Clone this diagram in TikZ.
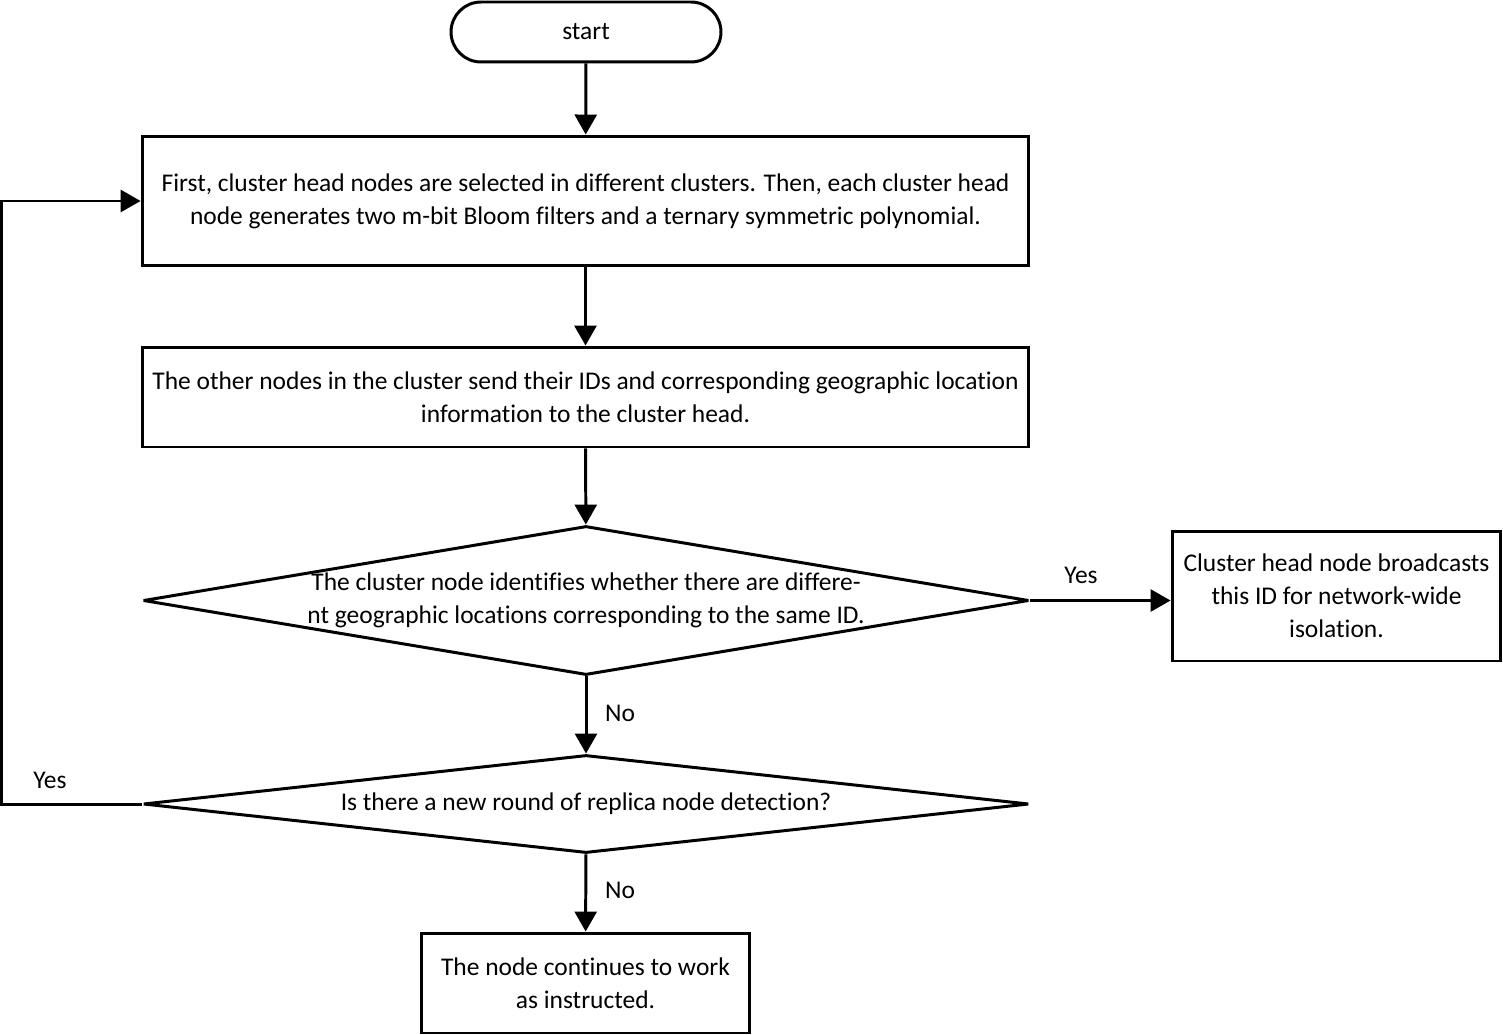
\documentclass[tikz,border=0pt]{standalone}
\usepackage{fontspec}
\setmainfont{Carlito}[Ligatures=NoCommon]
\usetikzlibrary{arrows.meta,shapes.geometric}
\begin{document}
\begin{tikzpicture}[x=0.02cm,y=-0.02cm,
  every node/.style={font=\fontsize{14.5}{18.8}\selectfont},
  box/.style={draw,line width=1.7pt,rectangle,inner sep=0pt,align=center},
  dia/.style={draw,line width=1.7pt,line join=bevel,diamond,inner sep=0pt},
  arr/.style={line width=1.7pt,-{Triangle[length=0.4cm,width=0.44cm]}},
  lbl/.style={inner sep=0pt}]
\useasboundingbox (0,0) rectangle (1503,1034);
\node[box,rounded corners=0.6cm,minimum width=5.4cm,minimum height=1.2cm] (start) at (586,32) {start};
\node[box,minimum width=17.74cm,minimum height=2.6cm] (b1) at (585.5,201) {First, cluster head nodes are selected in different clusters. Then, each cluster head\\node generates two m-bit Bloom filters and a ternary symmetric polynomial.};
\node[box,minimum width=17.74cm,minimum height=2.0cm] (b2) at (585.5,397) {The other nodes in the cluster send their IDs and corresponding geographic location\\information to the cluster head.};
\node[dia,minimum width=17.72cm,minimum height=2.98cm] (d1) at (586,600.5) {};
\node[lbl,align=center] (t1) at (d1.center) {The cluster node identifies whether there are differe-\\nt geographic locations corresponding to the same ID.};
\node[box,minimum width=6.58cm,minimum height=2.6cm] (b3) at (1336.5,596) {Cluster head node broadcasts\\this ID for network-wide\\isolation.};
\node[dia,minimum width=17.72cm,minimum height=1.96cm] (d2) at (586,804) {};
\node[lbl] (t2) at (d2.center) {Is there a new round of replica node detection?};
\node[box,minimum width=6.58cm,minimum height=2.0cm] (b4) at (585.5,983) {The node continues to work\\as instructed.};
\draw[arr] (start) -- (b1);
\draw[arr] (b1) -- (b2);
\draw[arr] (b2) -- (d1);
\draw[arr] (d1.east) -- (b3.west |- d1.east);
\draw[arr] (d1) -- (d2);
\draw[arr] (d2.west) -- ++(-140,0) |- (b1.west);
\draw[arr] (d2) -- (b4);
\node[lbl] (yes1) at (1081,575) {Yes};
\node[lbl] (no1) at (620,713) {No};
\node[lbl] (yes2) at (50,780) {Yes};
\node[lbl] (no2) at (620,890) {No};
\end{tikzpicture}
\end{document}
